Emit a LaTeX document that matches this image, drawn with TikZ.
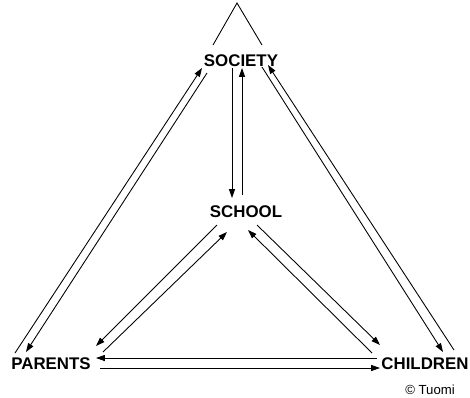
\documentclass[tikz,border=0pt]{standalone}
\usepackage{fontspec}
\setmainfont{Liberation Sans}
\usetikzlibrary{arrows.meta}

\begin{document}
\begin{tikzpicture}[x=0.02cm, y=-0.02cm,
    lbl/.style={inner sep=1pt, font=\fontsize{9.6}{12}\selectfont\bfseries},
    credit/.style={inner sep=1pt, font=\fontsize{7.5}{9}\selectfont},
    arr/.style={-{Triangle[length=5pt,width=3.4pt]}, line width=0.5pt}]
\useasboundingbox (0,0) rectangle (470,397);
    \node[lbl] (society) at (241,61) {SOCIETY};
    \node[lbl] (school) at (246,212) {SCHOOL};
    \node[lbl] (parents) at (51,364) {PARENTS};
    \node[lbl] (children) at (425,364) {CHILDREN};
    \node[credit] (tuomi) at (430,390) {© Tuomi};
% roof above society
\draw[line width=0.5pt] ([shift={(-28,-16)}]society.center) -- ([shift={(-4,-58)}]society.center) -- ([shift={(21,-16)}]society.center);
% society <-> school
\draw[arr] ([shift={(-9,7)}]society.center) -- ([shift={(-14,-14)}]school.center);
\draw[arr] ([shift={(-4,-17)}]school.center) -- ([shift={(1,7)}]society.center);
% society <-> parents
\draw[arr] ([shift={(-36,-11)}]parents.center) -- ([shift={(-39,7)}]society.center);
\draw[arr] ([shift={(-34,12)}]society.center) -- ([shift={(-25,-12)}]parents.center);
% society <-> children
\draw[arr] ([shift={(29,-14)}]children.center) -- ([shift={(27,4)}]society.center);
\draw[arr] ([shift={(21,6)}]society.center) -- ([shift={(18,-12)}]children.center);
% school <-> parents
\draw[arr] ([shift={(-29,13)}]school.center) -- ([shift={(45,-18)}]parents.center);
\draw[arr] ([shift={(52,-12)}]parents.center) -- ([shift={(-19,20)}]school.center);
% school <-> children
\draw[arr] ([shift={(-53,-11)}]children.center) -- ([shift={(2,18)}]school.center);
\draw[arr] ([shift={(11,13)}]school.center) -- ([shift={(-45,-19)}]children.center);
% parents <-> children
\draw[arr] ([shift={(-48,-6)}]children.center) -- ([shift={(45,-6)}]parents.center);
\draw[arr] ([shift={(49,4)}]parents.center) -- ([shift={(-45,4)}]children.center);
\end{tikzpicture}
\end{document}
